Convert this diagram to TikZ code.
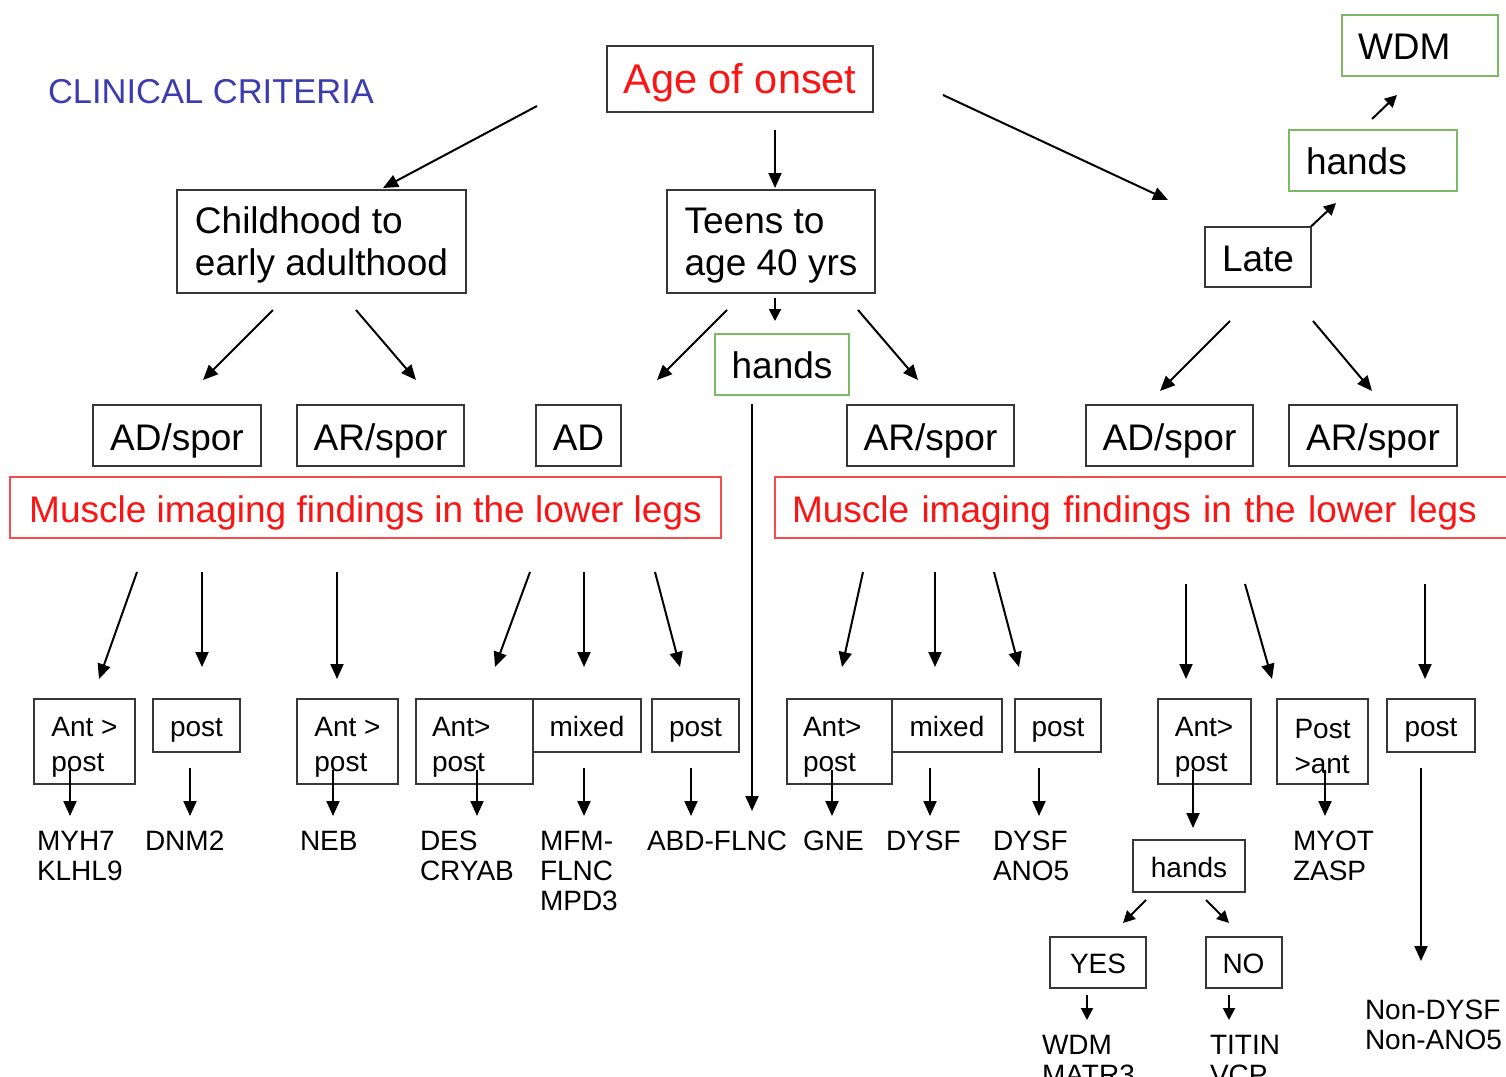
\documentclass[tikz,border=0pt]{standalone}
\usepackage{fontspec}
\setmainfont{Liberation Sans}
\usetikzlibrary{arrows.meta}
\definecolor{boxline}{RGB}{55,55,55}
\definecolor{greenline}{RGB}{125,185,100}
\definecolor{redline}{RGB}{245,75,75}
\definecolor{redtext}{RGB}{250,20,20}
\definecolor{titleblue}{RGB}{60,60,175}
\begin{document}
\begin{tikzpicture}[x=1pt,y=-1pt,
  every node/.style={inner sep=0pt, outer sep=0pt},
  big/.style={font=\fontsize{37}{42}\selectfont},
  bigone/.style={big, text height=29pt, text depth=0pt},
  small/.style={font=\fontsize{28}{35}\selectfont},
  smallone/.style={small, text height=22pt, text depth=0pt},
  gene/.style={font=\fontsize{28}{30}\selectfont, anchor=north west, align=left},
  box/.style={draw=boxline, line width=2pt, align=left},
  gbox/.style={draw=greenline, line width=2pt, align=left},
  rbox/.style={draw=redline, line width=2pt, text=redtext, align=left},
  arr/.style={line width=2pt, -{Triangle[length=15pt,width=13pt]}},
  sarr/.style={line width=2pt, -{Triangle[length=12pt,width=12pt]}},
]
\useasboundingbox (0,0) rectangle (1506,1076);

% ---------- title and age of onset ----------
\node[font=\fontsize{34.5}{40}\selectfont, text=titleblue, anchor=west] (title) at (48,92) {CLINICAL CRITERIA};
\node[box, minimum width=266, minimum height=66, font=\fontsize{41.5}{46}\selectfont,
      text height=30pt, text depth=0pt, text=redtext] (age) at (740,78.5) {Age of onset};

% ---------- age groups ----------
\node[box, big, minimum width=289, minimum height=103] (child) at (321.5,241.5) {\rule{0pt}{34pt}Childhood to\\early adulthood};
\node[box, big, minimum width=208, minimum height=103] (teens) at (771,241.5) {\rule{0pt}{34pt}Teens to\\age 40 yrs};
\node[box, bigone, minimum width=106, minimum height=60] (late) at (1258,256.5) {Late};
\node[gbox, bigone, minimum height=61, text width=134, inner xsep=17] (handsT) at (1373,160) {hands};
\node[gbox, bigone, minimum height=61, text width=124, inner xsep=16] (wdmT) at (1420,45) {WDM};
\node[gbox, bigone, minimum width=134, minimum height=61] (handsM) at (782,364) {hands};

% ---------- inheritance ----------
\node[box, bigone, minimum width=168, minimum height=61] (ads1) at (177,435.5) {AD/spor};
\node[box, bigone, minimum width=167, minimum height=61] (ars1) at (380.5,435.5) {AR/spor};
\node[box, bigone, minimum width=85, minimum height=61] (ad) at (578.5,435.5) {AD};
\node[box, bigone, minimum width=167, minimum height=61] (ars2) at (930.5,435.5) {AR/spor};
\node[box, bigone, minimum width=167, minimum height=61] (ads2) at (1169.5,435.5) {AD/spor};
\node[box, bigone, minimum width=168, minimum height=61] (ars3) at (1373,435.5) {AR/spor};

% ---------- imaging ----------
\node[rbox, bigone, minimum width=711, minimum height=61] (imgL) at (365.5,507.5) {Muscle imaging findings in the lower legs};
\node[rbox, bigone, minimum height=61, text width=703, inner xsep=17] (imgR) at (1143.5,507.5) {Muscle imaging findings in the lower legs};

% ---------- imaging patterns ----------
\node[box, small, minimum width=101, minimum height=85] (b1) at (84.5,741.5) {\rule{0pt}{30pt}Ant >\\post};
\node[box, smallone, minimum width=87, minimum height=53] (b2) at (196.5,725.5) {post};
\node[box, small, minimum width=101, minimum height=85] (b3) at (347.5,741.5) {\rule{0pt}{30pt}Ant >\\post};
\node[box, small, minimum height=85, text width=85, inner xsep=16] (b4) at (474.5,741.5) {\rule{0pt}{30pt}Ant>\\post};
\node[box, smallone, minimum width=108, minimum height=53] (b5) at (587,725.5) {mixed};
\node[box, smallone, minimum width=87, minimum height=53] (b6) at (695.5,725.5) {post};
\node[box, small, minimum height=85, text width=73, inner xsep=16] (b7) at (839.5,741.5) {\rule{0pt}{30pt}Ant>\\post};
\node[box, smallone, minimum width=110, minimum height=53] (b8) at (947,725.5) {mixed};
\node[box, smallone, minimum width=86, minimum height=53] (b9) at (1058,725.5) {post};
\node[box, small, minimum width=93, minimum height=85] (b10) at (1204,741.5) {\rule{0pt}{30pt}Ant>\\post};
\node[box, small, minimum width=91, minimum height=85] (b11) at (1322.5,741.5) {\rule{0pt}{30pt}Post\\>ant};
\node[box, smallone, minimum width=88, minimum height=53] (b12) at (1431,725.5) {post};
\node[box, smallone, minimum width=112, minimum height=52] (handsB) at (1189,866) {hands};
\node[box, smallone, minimum width=96, minimum height=51] (yes) at (1098,962) {YES};
\node[box, smallone, minimum width=76, minimum height=51] (no) at (1243.5,962) {NO};

% ---------- genes ----------
\node[gene] (g1) at (37,831) {MYH7\\KLHL9};
\node[gene] (g2) at (145,831) {DNM2};
\node[gene] (g3) at (300,831) {NEB};
\node[gene] (g4) at (420,831) {DES\\CRYAB};
\node[gene] (g5) at (540,831) {MFM-\\FLNC\\MPD3};
\node[gene] (g6) at (647,831) {ABD-FLNC};
\node[gene] (g7) at (803,831) {GNE};
\node[gene] (g8) at (886,831) {DYSF};
\node[gene] (g9) at (993,831) {DYSF\\ANO5};
\node[gene] (g10) at (1293,831) {MYOT\\ZASP};
\node[gene] (g11) at (1042,1035) {WDM\\MATR3};
\node[gene] (g12) at (1210,1035) {TITIN\\VCP};
\node[gene] (g13) at (1365,1000) {Non-DYSF\\Non-ANO5};

% ---------- connector end points ----------
\coordinate (ageL) at (537,106);   \coordinate (childT) at (383,188);
\coordinate (ageB) at (775,130);   \coordinate (teensT) at (775,188);
\coordinate (ageR) at (943,95);    \coordinate (lateT) at (1168,200);
\coordinate (handsTin) at (1336,203);
\coordinate (handsTout) at (1372,119); \coordinate (wdmTin) at (1397,95);
\coordinate (childL) at (273,310); \coordinate (ads1T) at (203,380);
\coordinate (childR) at (356,310); \coordinate (ars1T) at (416,380);
\coordinate (teensB) at (775,298); \coordinate (handsMT) at (775,321);
\coordinate (teensL) at (727,310); \coordinate (adT) at (657,380);
\coordinate (teensR) at (858,310); \coordinate (ars2T) at (918,380);
\coordinate (handsMB) at (752,404); \coordinate (abdT) at (752,811);
\coordinate (lateL) at (1230,321); \coordinate (ads2T) at (1160,391);
\coordinate (lateR) at (1313,321); \coordinate (ars3T) at (1372,391);

\coordinate (iL1) at (137,572); \coordinate (b1T) at (99,679);
\coordinate (iL2) at (202,572); \coordinate (b2T) at (202,667);
\coordinate (iL3) at (337,572); \coordinate (b3T) at (337,679);
\coordinate (iL4) at (530,572); \coordinate (b4T) at (495,667);
\coordinate (iL5) at (584,572); \coordinate (b5T) at (584,667);
\coordinate (iL6) at (655,572); \coordinate (b6T) at (680,667);
\coordinate (iR1) at (863,572); \coordinate (b7T) at (842,667);
\coordinate (iR2) at (935,572); \coordinate (b8T) at (935,667);
\coordinate (iR3) at (994,572); \coordinate (b9T) at (1019,667);
\coordinate (iR4) at (1186,584); \coordinate (b10T) at (1186,679);
\coordinate (iR5) at (1245,584); \coordinate (b11T) at (1272,679);
\coordinate (iR6) at (1425,584); \coordinate (b12T) at (1425,679);

\coordinate (b1o) at (70,770);    \coordinate (g1T) at (70,816);
\coordinate (b2o) at (190,768);   \coordinate (g2T) at (190,816);
\coordinate (b3o) at (333,770);   \coordinate (g3T) at (333,816);
\coordinate (b4o) at (477,770);   \coordinate (g4T) at (477,816);
\coordinate (b5o) at (584,768);   \coordinate (g5T) at (584,816);
\coordinate (b6o) at (691,768);   \coordinate (g6T) at (691,816);
\coordinate (b7o) at (832,770);   \coordinate (g7T) at (832,816);
\coordinate (b8o) at (930,768);   \coordinate (g8T) at (930,816);
\coordinate (b9o) at (1039,768);  \coordinate (g9T) at (1039,816);
\coordinate (b10o) at (1193,770); \coordinate (handsBT) at (1193,828);
\coordinate (b11o) at (1325,770); \coordinate (g10T) at (1325,816);
\coordinate (b12o) at (1421,768); \coordinate (g13T) at (1421,961);
\coordinate (handsBL) at (1146,900); \coordinate (yesT) at (1123,923);
\coordinate (handsBR) at (1206,900); \coordinate (noT) at (1229,923);
\coordinate (yesB) at (1087,995); \coordinate (g11T) at (1087,1020);
\coordinate (noB) at (1229,995);  \coordinate (g12T) at (1229,1020);

% ---------- connectors ----------
\draw[arr] (ageL) -- (childT);
\draw[arr] (ageB) -- (teensT);
\draw[arr] (ageR) -- (lateT);
\draw[sarr] (late.north east) -- (handsTin);
\draw[sarr] (handsTout) -- (wdmTin);
\draw[arr] (childL) -- (ads1T);
\draw[arr] (childR) -- (ars1T);
\draw[sarr] (teensB) -- (handsMT);
\draw[arr] (teensL) -- (adT);
\draw[arr] (teensR) -- (ars2T);
\draw[arr] (handsMB) -- (abdT);
\draw[arr] (lateL) -- (ads2T);
\draw[arr] (lateR) -- (ars3T);

\foreach \s/\e in {iL1/b1T, iL2/b2T, iL3/b3T, iL4/b4T, iL5/b5T, iL6/b6T,
                   iR1/b7T, iR2/b8T, iR3/b9T, iR4/b10T, iR5/b11T, iR6/b12T,
                   b1o/g1T, b2o/g2T, b3o/g3T, b4o/g4T, b5o/g5T, b6o/g6T,
                   b7o/g7T, b8o/g8T, b9o/g9T, b10o/handsBT, b11o/g10T, b12o/g13T}
  \draw[arr] (\s) -- (\e);

\draw[sarr] (handsBL) -- (yesT);
\draw[sarr] (handsBR) -- (noT);
\draw[sarr] (yesB) -- (g11T);
\draw[sarr] (noB) -- (g12T);
\end{tikzpicture}
\end{document}
